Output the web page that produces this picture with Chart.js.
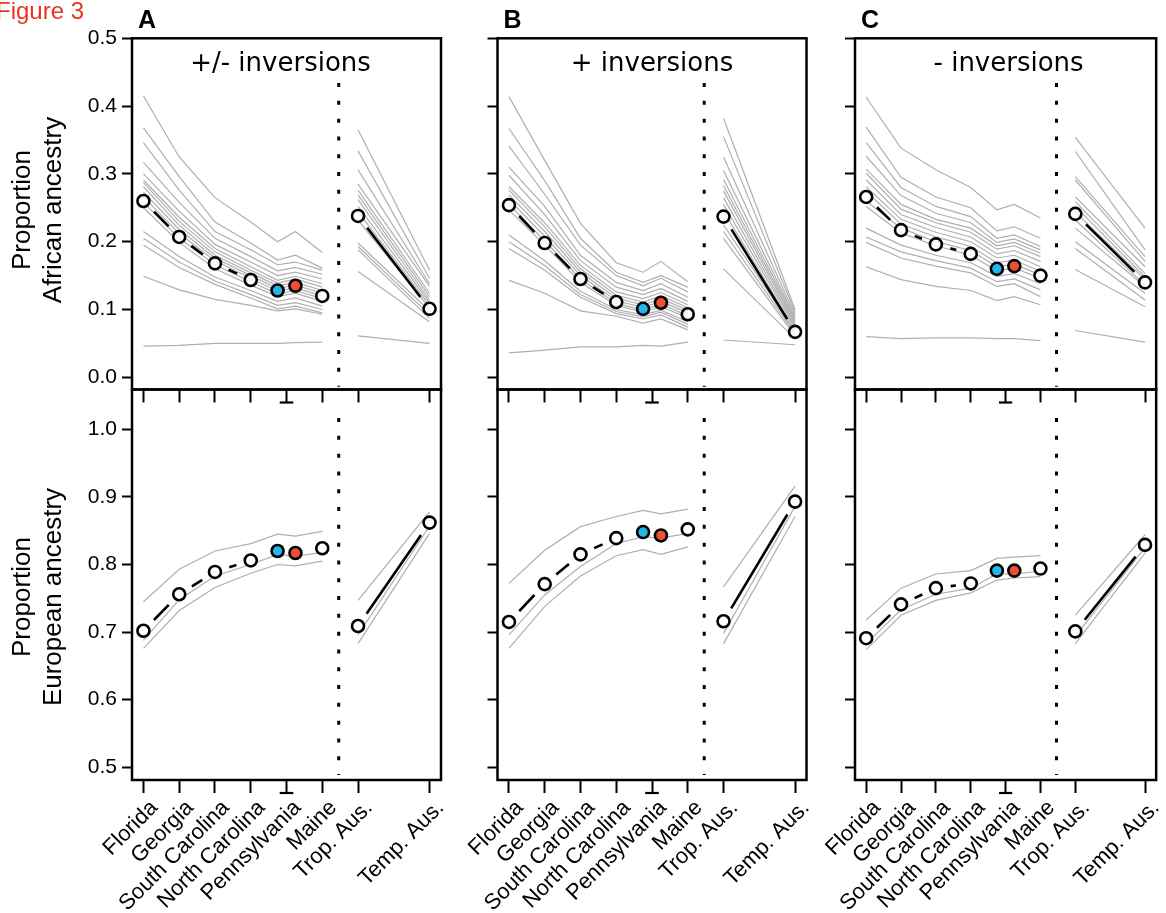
<!DOCTYPE html>
<html>
<head>
<meta charset="utf-8">
<script src="https://cdn.jsdelivr.net/npm/chart.js@4.4.1/dist/chart.umd.min.js"></script>
<style>
  html, body { margin: 0; padding: 0; background: #fff; }
  #fig { position: relative; width: 1166px; height: 913px; overflow: hidden; }
  #fig canvas { position: absolute; left: 0; top: 0; }
</style>
</head>
<body>
<div id="fig">
  <canvas id="c0" width="1166" height="913"></canvas>
  <canvas id="c1" width="1166" height="913"></canvas>
  <canvas id="c2" width="1166" height="913"></canvas>
  <canvas id="c3" width="1166" height="913"></canvas>
  <canvas id="c4" width="1166" height="913"></canvas>
  <canvas id="c5" width="1166" height="913"></canvas>
</div>
<script>
const FONT = '"Liberation Sans", Arial, Helvetica, sans-serif';
const TITLE_FONT = '"DejaVu Sans", Verdana, sans-serif';
const GRAY = "#afafaf";
const BLUE = "#25b6e9";
const RED = "#ee4f36";
const WHITE = "rgba(255,255,255,0.8)";

// x positions: the Pennsylvania column is split in two (blue / red)
const stateX = [1, 2, 3, 4, 4.75, 5.25, 6];
const ausX = [7, 9];
const tickX = [1, 2, 3, 4, 5, 6, 7, 9];
const tickLabels = ["Florida", "Georgia", "South Carolina", "North Carolina",
  "Pennsylvania", "Maine", "Trop. Aus.", "Temp. Aus."];
const dividerX = 6.46;

const africanTicks = [0, 0.1, 0.2, 0.3, 0.4, 0.5];
const europeanTicks = [0.5, 0.6, 0.7, 0.8, 0.9, 1.0];

// --- African ancestry (top row) ---
const africanA = [0.260, 0.207, 0.168, 0.1435, 0.128, 0.135, 0.120];
const africanAusA = [0.238, 0.101];
const africanB = [0.254, 0.198, 0.145, 0.111, 0.101, 0.110, 0.093];
const africanAusB = [0.237, 0.067];
const africanC = [0.266, 0.217, 0.196, 0.182, 0.160, 0.164, 0.150];
const africanAusC = [0.241, 0.140];

const grayAfrA = [
  [0.415, 0.325, 0.265, 0.229, 0.200, 0.215, 0.184],
  [0.368, 0.296, 0.229, 0.198, 0.173, 0.180, 0.161],
  [0.346, 0.276, 0.215, 0.188, 0.166, 0.170, 0.158],
  [0.317, 0.258, 0.205, 0.178, 0.157, 0.162, 0.152],
  [0.300, 0.245, 0.196, 0.170, 0.150, 0.155, 0.145],
  [0.291, 0.236, 0.190, 0.163, 0.143, 0.149, 0.138],
  [0.287, 0.230, 0.185, 0.158, 0.139, 0.145, 0.133],
  [0.281, 0.224, 0.180, 0.154, 0.135, 0.140, 0.128],
  [0.273, 0.218, 0.176, 0.150, 0.131, 0.136, 0.124],
  [0.266, 0.212, 0.172, 0.146, 0.127, 0.132, 0.120],
  [0.258, 0.205, 0.166, 0.141, 0.123, 0.128, 0.116],
  [0.250, 0.199, 0.160, 0.136, 0.119, 0.124, 0.112],
  [0.215, 0.178, 0.148, 0.128, 0.112, 0.117, 0.105],
  [0.205, 0.170, 0.142, 0.122, 0.106, 0.110, 0.100],
  [0.195, 0.162, 0.137, 0.117, 0.101, 0.105, 0.095],
  [0.149, 0.129, 0.115, 0.106, 0.098, 0.101, 0.093],
  [0.046, 0.047, 0.050, 0.050, 0.050, 0.051, 0.052],
];
const grayAfrAusA = [
  [0.365, 0.158], [0.334, 0.146], [0.306, 0.138], [0.285, 0.134], [0.276, 0.124],
  [0.269, 0.119], [0.262, 0.114], [0.252, 0.110], [0.244, 0.106], [0.232, 0.102],
  [0.198, 0.098], [0.193, 0.092], [0.188, 0.087], [0.156, 0.082], [0.061, 0.050],
];

const grayAfrB = [
  [0.414, 0.320, 0.227, 0.169, 0.155, 0.171, 0.141],
  [0.367, 0.290, 0.205, 0.155, 0.140, 0.150, 0.133],
  [0.341, 0.270, 0.195, 0.150, 0.135, 0.146, 0.126],
  [0.310, 0.252, 0.180, 0.140, 0.128, 0.138, 0.118],
  [0.298, 0.240, 0.172, 0.133, 0.122, 0.131, 0.112],
  [0.281, 0.228, 0.165, 0.126, 0.116, 0.125, 0.107],
  [0.276, 0.222, 0.160, 0.121, 0.111, 0.120, 0.103],
  [0.269, 0.215, 0.155, 0.117, 0.107, 0.116, 0.099],
  [0.262, 0.208, 0.150, 0.113, 0.103, 0.112, 0.095],
  [0.255, 0.201, 0.145, 0.109, 0.099, 0.108, 0.091],
  [0.247, 0.195, 0.140, 0.106, 0.096, 0.104, 0.088],
  [0.210, 0.172, 0.127, 0.100, 0.092, 0.099, 0.082],
  [0.200, 0.165, 0.122, 0.097, 0.089, 0.096, 0.078],
  [0.190, 0.158, 0.118, 0.094, 0.086, 0.092, 0.074],
  [0.143, 0.124, 0.098, 0.090, 0.080, 0.086, 0.070],
  [0.036, 0.040, 0.045, 0.045, 0.047, 0.046, 0.052],
];
const grayAfrAusB = [
  [0.382, 0.100], [0.355, 0.096], [0.325, 0.092], [0.305, 0.088], [0.292, 0.085],
  [0.283, 0.082], [0.275, 0.079], [0.265, 0.076], [0.255, 0.073], [0.245, 0.070],
  [0.225, 0.067], [0.215, 0.064], [0.205, 0.061], [0.160, 0.057], [0.055, 0.048],
];

const grayAfrC = [
  [0.413, 0.338, 0.306, 0.280, 0.247, 0.255, 0.235],
  [0.369, 0.295, 0.266, 0.250, 0.216, 0.222, 0.205],
  [0.346, 0.280, 0.252, 0.237, 0.205, 0.210, 0.193],
  [0.326, 0.268, 0.242, 0.228, 0.199, 0.204, 0.188],
  [0.307, 0.255, 0.233, 0.220, 0.194, 0.199, 0.183],
  [0.301, 0.248, 0.228, 0.214, 0.189, 0.194, 0.178],
  [0.291, 0.240, 0.221, 0.207, 0.182, 0.187, 0.171],
  [0.281, 0.233, 0.214, 0.200, 0.176, 0.180, 0.163],
  [0.274, 0.226, 0.207, 0.193, 0.169, 0.173, 0.156],
  [0.260, 0.220, 0.200, 0.187, 0.163, 0.167, 0.151],
  [0.252, 0.213, 0.194, 0.180, 0.157, 0.161, 0.146],
  [0.220, 0.195, 0.180, 0.169, 0.149, 0.153, 0.138],
  [0.207, 0.185, 0.172, 0.161, 0.141, 0.145, 0.129],
  [0.199, 0.176, 0.164, 0.154, 0.134, 0.138, 0.119],
  [0.163, 0.144, 0.134, 0.128, 0.113, 0.119, 0.107],
  [0.060, 0.057, 0.058, 0.058, 0.057, 0.057, 0.054],
];
const grayAfrAusC = [
  [0.354, 0.220], [0.333, 0.188], [0.296, 0.178], [0.291, 0.171], [0.266, 0.163],
  [0.259, 0.153], [0.252, 0.148], [0.244, 0.144], [0.232, 0.136], [0.220, 0.134],
  [0.200, 0.124], [0.190, 0.114], [0.159, 0.104], [0.069, 0.052],
];

// --- European ancestry (bottom row) ---
const europeanA = [0.702, 0.756, 0.789, 0.806, 0.820, 0.817, 0.824];
const europeanAusA = [0.709, 0.862];
const europeanB = [0.715, 0.771, 0.815, 0.839, 0.848, 0.843, 0.852];
const europeanAusB = [0.716, 0.893];
const europeanC = [0.691, 0.741, 0.765, 0.772, 0.791, 0.791, 0.794];
const europeanAusC = [0.701, 0.829];

const grayEurA = [
  [0.745, 0.793, 0.820, 0.831, 0.845, 0.842, 0.849],
  [0.688, 0.748, 0.783, 0.800, 0.815, 0.812, 0.818],
  [0.676, 0.732, 0.766, 0.787, 0.800, 0.798, 0.805],
];
const grayEurAusA = [[0.747, 0.878], [0.696, 0.857], [0.683, 0.846]];
const grayEurB = [
  [0.772, 0.821, 0.856, 0.871, 0.880, 0.875, 0.882],
  [0.696, 0.755, 0.797, 0.831, 0.841, 0.839, 0.846],
  [0.676, 0.738, 0.783, 0.813, 0.822, 0.815, 0.826],
];
const grayEurAusB = [[0.767, 0.916], [0.698, 0.886], [0.683, 0.871]];
const grayEurC = [
  [0.718, 0.765, 0.786, 0.791, 0.809, 0.811, 0.813],
  [0.683, 0.733, 0.756, 0.765, 0.786, 0.786, 0.790],
  [0.674, 0.725, 0.747, 0.758, 0.777, 0.780, 0.782],
];
const grayEurAusC = [[0.725, 0.844], [0.694, 0.825], [0.683, 0.817]];

// layout of the figure (pixels)
const cols = [
  { left: 132, right: 441, letter: "A", title: "+/- inversions", titleDx: -6 },
  { left: 497.5, right: 806.5, letter: "B", title: "+ inversions", titleDx: 0 },
  { left: 855, right: 1164, letter: "C", title: "- inversions", titleDx: 3 },
];
const rows = [
  { top: 38.3, bottom: 389.5, min: -0.018, max: 0.5, ticks: africanTicks,
    divider: [0.434, -0.014], xH: 15, labels: false,
    yTitle: ["Proportion", "African ancestry"], yTitleY: 210 },
  { top: 389.5, bottom: 780, min: 0.4812, max: 1.0589, ticks: europeanTicks,
    divider: [1.0167, 0.4886], xH: 133, labels: true,
    yTitle: ["Proportion", "European ancestry"], yTitleY: 597 },
];
const Y_AXIS_W = 60;
const GAP = 15; // gap between a circle centre and its connecting line

const panelData = [
  [africanA, africanAusA, grayAfrA, grayAfrAusA],
  [africanB, africanAusB, grayAfrB, grayAfrAusB],
  [africanC, africanAusC, grayAfrC, grayAfrAusC],
  [europeanA, europeanAusA, grayEurA, grayEurAusA],
  [europeanB, europeanAusB, grayEurB, grayEurAusB],
  [europeanC, europeanAusC, grayEurC, grayEurAusC],
];

const pts = (xs, ys) => xs.map((x, i) => ({ x, y: ys[i] }));

const grayLine = (data) => ({
  data, borderColor: GRAY, borderWidth: 1.2, pointRadius: 0, order: 3,
});

// R-style "b" line: each segment stops short of the circles
const mainLine = (data) => ({
  data, borderColor: "#000", borderWidth: 2.6, pointRadius: 0, order: 1,
  segment: {
    borderDash: (c) => {
      const L = Math.hypot(c.p1.x - c.p0.x, c.p1.y - c.p0.y);
      return [0, GAP, Math.max(L - 2 * GAP, 0), L + 10];
    },
  },
});

function buildDatasets(means, aus, grays, ausGrays, row) {
  const ds = [];
  grays.forEach((g) => ds.push(grayLine(pts(stateX, g))));
  ausGrays.forEach((g) => ds.push(grayLine(pts(ausX, g))));
  ds.push({
    data: row.divider.map((y) => ({ x: dividerX, y })),
    borderColor: "#000", borderWidth: 3, borderDash: [4, 13.8],
    pointRadius: 0, order: 2,
  });
  ds.push(mainLine(pts(stateX.slice(0, 4), means)));
  ds.push(mainLine(pts(ausX, aus)));
  ds.push({
    data: [...pts(stateX, means), ...pts(ausX, aus)],
    showLine: false,
    pointRadius: 6,
    pointBorderWidth: 2.6,
    pointBorderColor: "#000",
    pointBackgroundColor: [WHITE, WHITE, WHITE, WHITE, BLUE, RED, WHITE, WHITE, WHITE],
    order: 0,
  });
  return ds;
}

function decor(col, row, ci, ri) {
  return {
    id: "decor",
    afterDraw(chart) {
      const { ctx, chartArea: a, scales } = chart;
      ctx.save();
      // panel box
      ctx.strokeStyle = "#000";
      ctx.lineWidth = 2.5;
      ctx.strokeRect(a.left, a.top, a.right - a.left, a.bottom - a.top);
      // bracket under the split Pennsylvania tick
      const yb = a.bottom + 13;
      ctx.lineWidth = 2.2;
      ctx.beginPath();
      ctx.moveTo(scales.x.getPixelForValue(4.81), yb);
      ctx.lineTo(scales.x.getPixelForValue(5.19), yb);
      ctx.stroke();
      ctx.fillStyle = "#000";
      if (ri === 0) {
        ctx.font = `26px ${TITLE_FONT}`;
        ctx.textAlign = "center";
        ctx.textBaseline = "alphabetic";
        ctx.fillText(col.title, (a.left + a.right) / 2 + col.titleDx, 71);
        ctx.font = `bold 25px ${FONT}`;
        ctx.textAlign = "left";
        ctx.fillText(col.letter, a.left + 6, 28);
        if (ci === 0) {
          ctx.font = `24px ${FONT}`;
          ctx.fillStyle = "#e8351d";
          ctx.fillText("Figure 3", -4, 19);
          ctx.fillStyle = "#000";
        }
      }
      if (ci === 0) {
        ctx.font = `26px ${FONT}`;
        ctx.textAlign = "center";
        ctx.textBaseline = "middle";
        ctx.translate(0, row.yTitleY);
        ctx.rotate(-Math.PI / 2);
        ctx.fillText(row.yTitle[0], 0, 22.5);
        ctx.fillText(row.yTitle[1], 0, 54);
      }
      ctx.restore();
    },
  };
}

rows.forEach((row, ri) => {
  cols.forEach((col, ci) => {
    const [means, aus, grays, ausGrays] = panelData[ri * 3 + ci];
    new Chart(document.getElementById("c" + (ri * 3 + ci)), {
      type: "line",
      data: { datasets: buildDatasets(means, aus, grays, ausGrays, row) },
      options: {
        responsive: false,
        animation: false,
        events: [],
        layout: {
          padding: {
            left: col.left - Y_AXIS_W,
            right: 1166 - col.right,
            top: row.top,
            bottom: 913 - row.bottom - row.xH,
          },
        },
        plugins: { legend: { display: false }, tooltip: { enabled: false } },
        scales: {
          x: {
            type: "linear",
            min: 0.68,
            max: 9.32,
            afterBuildTicks: (s) => { s.ticks = tickX.map((v) => ({ value: v })); },
            afterFit: (s) => { s.height = row.xH; },
            border: { display: false },
            grid: { drawOnChartArea: false, tickLength: 13, tickWidth: 2, tickColor: "#000" },
            ticks: {
              autoSkip: false,
              minRotation: 45,
              maxRotation: 45,
              padding: 2,
              labelOffset: 11,
              color: "#000",
              font: { family: FONT, size: 22 },
              callback: (v) => (row.labels ? tickLabels[tickX.indexOf(v)] : ""),
            },
          },
          y: {
            type: "linear",
            min: row.min,
            max: row.max,
            afterBuildTicks: (s) => { s.ticks = row.ticks.map((v) => ({ value: v })); },
            afterFit: (s) => { s.width = Y_AXIS_W; },
            border: { display: false },
            grid: { drawOnChartArea: false, tickLength: 10, tickWidth: 2, tickColor: "#000" },
            ticks: {
              padding: 5,
              color: "#000",
              font: { family: FONT, size: 21 },
              callback: (v) => (ci === 0 ? v.toFixed(1) : ""),
            },
          },
        },
      },
      plugins: [decor(col, row, ci, ri)],
    });
  });
});
</script>
</body>
</html>
